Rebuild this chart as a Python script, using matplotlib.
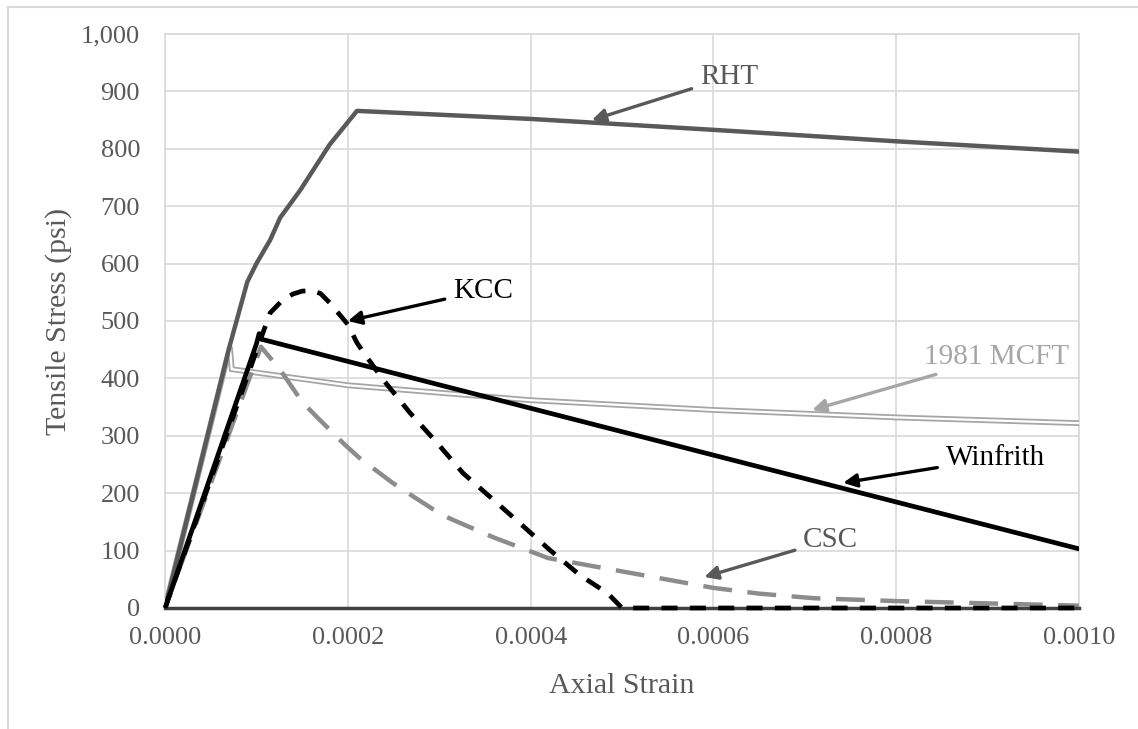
import matplotlib
matplotlib.use("Agg")
import matplotlib.pyplot as plt
from matplotlib.lines import Line2D
from matplotlib.ticker import FuncFormatter, MultipleLocator

plt.rcParams['font.family'] = ['Liberation Serif', 'DejaVu Serif']

# stress-strain curves (strain, psi)
rht_strain = [0, 0.000071, 0.00009, 0.0001, 0.000115, 0.000126, 0.000148, 0.00018, 0.00021,
              0.0004, 0.0006, 0.0008, 0.001]
rht_stress = [0, 458, 568, 600, 641, 680, 728, 807, 866, 852, 833, 813, 795]

winfrith_strain = [0, 0.0001, 0.000103, 0.000106, 0.001]
winfrith_stress = [0, 460, 478, 468, 103]

kcc_strain = [0, 0.000105, 0.000115, 0.000129, 0.00014, 0.00015, 0.00016, 0.00017, 0.00018,
              0.00019, 0.0002, 0.00021, 0.000219, 0.000239, 0.000268, 0.000298, 0.000326,
              0.000356, 0.000388, 0.000421, 0.000454, 0.000484, 0.0005, 0.001]
kcc_stress = [0, 470, 514, 537, 547, 552, 553, 548, 532, 513, 494, 462, 441, 397, 340, 287, 235,
              193, 148, 101, 57, 26, 0, 0]

mcft_strain = [0, 0.000071, 0.000073, 0.0002, 0.0004, 0.0006, 0.0008, 0.001]
mcft_stress = [0, 455, 416, 388, 362, 345, 332, 322]

csc_strain = [0, 0.000105, 0.000126, 0.00015, 0.000166, 0.000197, 0.000213, 0.000249, 0.000266,
              0.000303, 0.000323, 0.000361, 0.000381, 0.000419, 0.0006, 0.00065, 0.00071,
              0.0008, 0.001]
csc_stress = [0, 455, 415, 359, 333, 284, 261, 218, 200, 162, 148, 122, 110, 87, 35, 25, 17, 12, 4]

baseline_strain = [0, 0.001]
baseline_stress = [0, 0]

# label text, text position, arrow tip (data coords), colour
labels = [
    ("RHT", (0.000585, 925), (0.000467, 850), "#595959"),
    ("KCC", (0.000315, 553), (0.000200, 500), "black"),
    ("1981 MCFT", (0.000830, 437), (0.000708, 345), "#a6a6a6"),
    ("Winfrith", (0.000854, 261), (0.000742, 218), "black"),
    ("CSC", (0.000698, 119), (0.000590, 54), "#595959"),
]

fig = plt.figure(figsize=(11.38, 7.29), dpi=100)
ax = fig.add_axes([0.145, 0.166, 0.8032, 0.7874])

grid_c = "#d9d9d9"
text_c = "#595959"

ax.plot(mcft_strain, mcft_stress, color="#a6a6a6", lw=4.2, solid_joinstyle="miter", zorder=3)
ax.plot(mcft_strain, mcft_stress, color="white", lw=1.6, zorder=3.1)
ax.plot(csc_strain, csc_stress, color="#8c8c8c", lw=3.2, dashes=(6.5, 3.5), zorder=3.2)
ax.plot(rht_strain, rht_stress, color="#595959", lw=3.2, zorder=3.3)
ax.plot(winfrith_strain, winfrith_stress, color="black", lw=3.4, zorder=3.4)
ax.plot(baseline_strain, baseline_stress, color="#404040", lw=2.5, zorder=3.5, clip_on=False)
ax.plot(kcc_strain, kcc_stress, color="black", lw=3.4, dashes=(3.4, 2.6), zorder=3.6,
        clip_on=False)

for name, txt_xy, tip_xy, col in labels:
    ax.annotate(name, xy=tip_xy, xytext=txt_xy, color=col, fontsize=21,
                ha="left", va="center", zorder=5,
                arrowprops=dict(arrowstyle="-|>", color=col, lw=2.4, mutation_scale=20,
                                shrinkA=4, shrinkB=0))

ax.set_xlim(0, 0.001)
ax.set_ylim(0, 1000)
ax.xaxis.set_major_locator(MultipleLocator(0.0002))
ax.yaxis.set_major_locator(MultipleLocator(100))
ax.xaxis.set_major_formatter(FuncFormatter(lambda v, p: f"{v:.4f}"))
ax.yaxis.set_major_formatter(FuncFormatter(lambda v, p: f"{v:,.0f}"))
ax.grid(True, color=grid_c, lw=1.2, zorder=0)
ax.set_axisbelow(True)
for s in ax.spines.values():
    s.set_color(grid_c)
    s.set_linewidth(1.2)
ax.tick_params(length=0, labelsize=19, colors=text_c)
ax.tick_params(axis="y", pad=18)
ax.tick_params(axis="x", pad=14)

ax.set_xlabel("Axial Strain", fontsize=21.5, color=text_c)
ax.set_ylabel("Tensile Stress (psi)", fontsize=21.5, color=text_c)
ax.xaxis.set_label_coords(0.5, -0.114)
ax.yaxis.set_label_coords(-0.1017, 0.5)

# chart-area frame
fig.add_artist(Line2D([8 / 1138, 1], [1 - 7 / 729, 1 - 7 / 729], color=grid_c, lw=1.5))
fig.add_artist(Line2D([8 / 1138, 8 / 1138], [0, 1 - 7 / 729], color=grid_c, lw=1.5))

fig.savefig("out.png", dpi=100, facecolor="white")
